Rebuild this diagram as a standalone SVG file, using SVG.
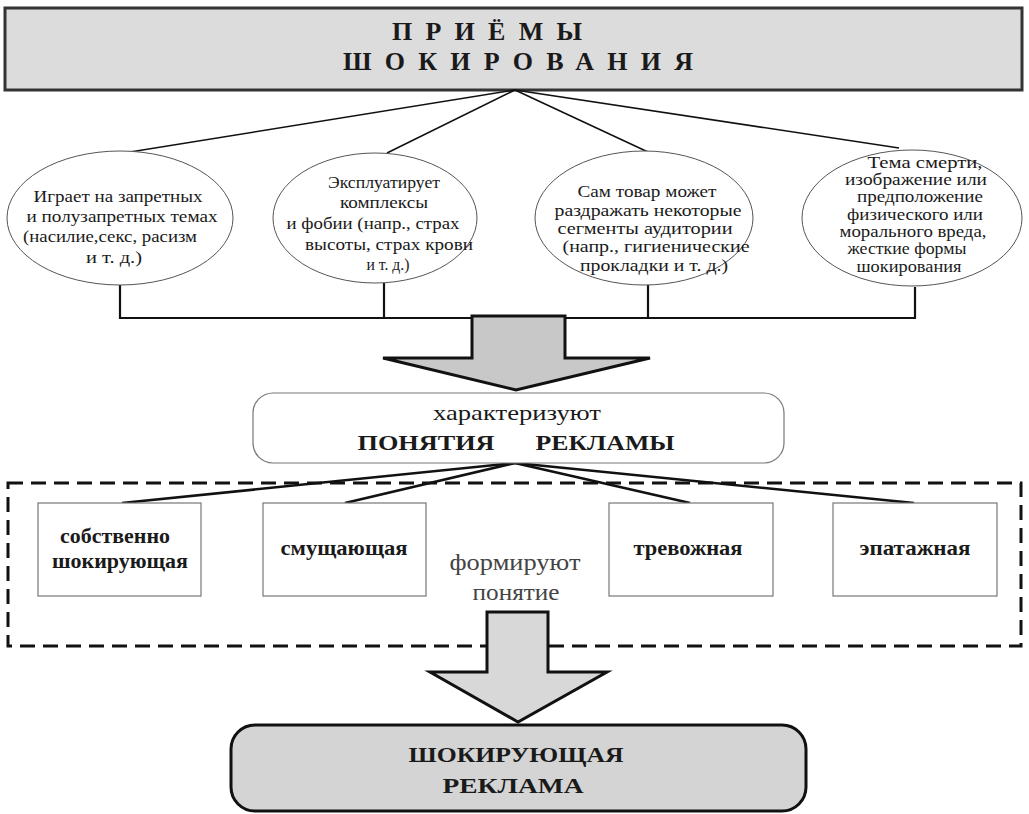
<svg xmlns="http://www.w3.org/2000/svg" width="1029" height="814" viewBox="0 0 1029 814">
<style>
text{font-family:'Liberation Serif','DejaVu Serif','Times New Roman',serif;fill:#1a1a1a}
.el{font-size:17px;text-anchor:middle}
.bold{font-weight:bold}
.conn{stroke:#111;fill:none}
</style>
<rect width="1029" height="814" fill="#fff"/>
<g id="top">
<rect x="5" y="8" width="1017" height="82" fill="#dcdcdc" stroke="#333" stroke-width="3"/>
<text class="bold" x="392" y="40" font-size="26" textLength="190" lengthAdjust="spacing">ПРИЁМЫ</text>
<text class="bold" x="343" y="70" font-size="26" textLength="350" lengthAdjust="spacing">ШОКИРОВАНИЯ</text>
</g>
<g id="connectors">
<g class="conn" stroke-width="1.6">
<line x1="515" y1="90" x2="130" y2="152"/>
<line x1="515" y1="90" x2="387" y2="153"/>
<line x1="515" y1="90" x2="648" y2="152"/>
<line x1="515" y1="90" x2="899" y2="148"/>
</g>
<g class="conn" stroke-width="2.2">
<polyline points="120,285 120,318 915,318 915,287"/>
<line x1="384" y1="283" x2="384" y2="318"/>
<line x1="648" y1="285" x2="648" y2="318"/>
</g>
<g class="conn" stroke-width="2.6">
<line x1="515" y1="463" x2="122" y2="503"/>
<line x1="515" y1="463" x2="345" y2="503"/>
<line x1="515" y1="463" x2="690" y2="503"/>
<line x1="515" y1="463" x2="914" y2="503"/>
</g>
</g>
<g id="e1">
<ellipse cx="120" cy="218" rx="113" ry="67" fill="#fff" stroke="#555" stroke-width="1"/>
<text class="el" x="118" y="202" textLength="169" lengthAdjust="spacingAndGlyphs">Играет на запретных</text>
<text class="el" x="122" y="222" textLength="191" lengthAdjust="spacingAndGlyphs">и полузапретных темах</text>
<text class="el" x="110" y="242" textLength="174" lengthAdjust="spacingAndGlyphs">(насилие,секс, расизм</text>
<text class="el" x="114" y="263" textLength="56" lengthAdjust="spacingAndGlyphs">и т. д.)</text>
</g>
<g id="e2">
<ellipse cx="375" cy="218" rx="102" ry="65" fill="#fff" stroke="#555" stroke-width="1"/>
<text class="el" x="384" y="188" textLength="112" lengthAdjust="spacingAndGlyphs">Эксплуатирует</text>
<text class="el" x="384" y="208" textLength="88" lengthAdjust="spacingAndGlyphs">комплексы</text>
<text class="el" x="373" y="229" textLength="173" lengthAdjust="spacingAndGlyphs">и фобии  (напр., страх</text>
<text class="el" x="389" y="250" textLength="168" lengthAdjust="spacingAndGlyphs">высоты, страх крови</text>
<text class="el" x="388" y="270" textLength="43" lengthAdjust="spacingAndGlyphs">и т. д.)</text>
</g>
<g id="e3">
<ellipse cx="644" cy="218" rx="109" ry="67" fill="#fff" stroke="#555" stroke-width="1"/>
<text class="el" x="647" y="197" textLength="139" lengthAdjust="spacingAndGlyphs">Сам товар может</text>
<text class="el" x="648" y="216" textLength="187" lengthAdjust="spacingAndGlyphs">раздражать некоторые</text>
<text class="el" x="645" y="234" textLength="175" lengthAdjust="spacingAndGlyphs">сегменты аудитории</text>
<text class="el" x="656" y="252" textLength="187" lengthAdjust="spacingAndGlyphs">(напр., гигиенические</text>
<text class="el" x="654" y="271" textLength="148" lengthAdjust="spacingAndGlyphs">прокладки и т. д.)</text>
</g>
<g id="e4">
<ellipse cx="912" cy="218" rx="110" ry="68" fill="#fff" stroke="#555" stroke-width="1"/>
<text class="el" x="925" y="168" textLength="115" lengthAdjust="spacingAndGlyphs">Тема смерти,</text>
<text class="el" x="916" y="185" textLength="142" lengthAdjust="spacingAndGlyphs">изображение или</text>
<text class="el" x="920" y="202" textLength="126" lengthAdjust="spacingAndGlyphs">предположение</text>
<text class="el" x="915" y="220" textLength="136" lengthAdjust="spacingAndGlyphs">физического или</text>
<text class="el" x="913" y="237" textLength="147" lengthAdjust="spacingAndGlyphs">морального вреда,</text>
<text class="el" x="907" y="254" textLength="119" lengthAdjust="spacingAndGlyphs">жесткие формы</text>
<text class="el" x="909" y="272" textLength="105" lengthAdjust="spacingAndGlyphs">шокирования</text>
</g>
<g id="arrow1">
<polygon points="472,316 565,316 565,358 650,358 516,390 383,358 472,358" fill="#c8c8c8" stroke="#111" stroke-width="3"/>
</g>
<g id="concepts">
<rect x="253" y="393" width="531" height="70" rx="20" fill="#fff" stroke="#777" stroke-width="1.2"/>
<text x="517" y="420" font-size="22" text-anchor="middle" textLength="168" lengthAdjust="spacingAndGlyphs">характеризуют</text>
<text class="bold" x="426" y="450" font-size="22" text-anchor="middle" textLength="137" lengthAdjust="spacingAndGlyphs">ПОНЯТИЯ</text>
<text class="bold" x="605" y="450" font-size="22" text-anchor="middle" textLength="139" lengthAdjust="spacingAndGlyphs">РЕКЛАМЫ</text>
</g>
<g id="group-frame">
<rect x="8" y="483" width="1013" height="163" fill="none" stroke="#111" stroke-width="3" stroke-dasharray="15,8"/>
</g>
<g id="r1">
<rect x="38" y="503" width="163" height="93" fill="#fff" stroke="#777" stroke-width="1.2"/>
<text class="bold" x="115" y="543" font-size="21" text-anchor="middle" textLength="110" lengthAdjust="spacingAndGlyphs">собственно</text>
<text class="bold" x="120" y="568" font-size="21" text-anchor="middle" textLength="136" lengthAdjust="spacingAndGlyphs">шокирующая</text>
</g>
<g id="r2">
<rect x="263" y="503" width="163" height="93" fill="#fff" stroke="#777" stroke-width="1.2"/>
<text class="bold" x="344" y="555" font-size="21" text-anchor="middle" textLength="127" lengthAdjust="spacingAndGlyphs">смущающая</text>
</g>
<g id="r3">
<rect x="609" y="503" width="164" height="93" fill="#fff" stroke="#777" stroke-width="1.2"/>
<text class="bold" x="688" y="555" font-size="21" text-anchor="middle" textLength="109" lengthAdjust="spacingAndGlyphs">тревожная</text>
</g>
<g id="r4">
<rect x="833" y="503" width="164" height="93" fill="#fff" stroke="#777" stroke-width="1.2"/>
<text class="bold" x="915" y="555" font-size="21" text-anchor="middle" textLength="111" lengthAdjust="spacingAndGlyphs">эпатажная</text>
</g>
<g id="form-label">
<text x="515" y="570" font-size="23" style="fill:#444" text-anchor="middle" textLength="131" lengthAdjust="spacingAndGlyphs">формируют</text>
<text x="516" y="600" font-size="23" style="fill:#444" text-anchor="middle" textLength="87" lengthAdjust="spacingAndGlyphs">понятие</text>
</g>
<g id="arrow2">
<polygon points="487,612 548,612 548,672 607,672 518,722 430,672 487,672" fill="#d8d8d8" stroke="#111" stroke-width="3"/>
</g>
<g id="result">
<rect x="231" y="725" width="575" height="86" rx="24" fill="#d4d4d4" stroke="#111" stroke-width="3"/>
<text class="bold" x="516" y="762" font-size="22" text-anchor="middle" textLength="215" lengthAdjust="spacingAndGlyphs">ШОКИРУЮЩАЯ</text>
<text class="bold" x="513" y="793" font-size="22" text-anchor="middle" textLength="141" lengthAdjust="spacingAndGlyphs">РЕКЛАМА</text>
</g>
</svg>
